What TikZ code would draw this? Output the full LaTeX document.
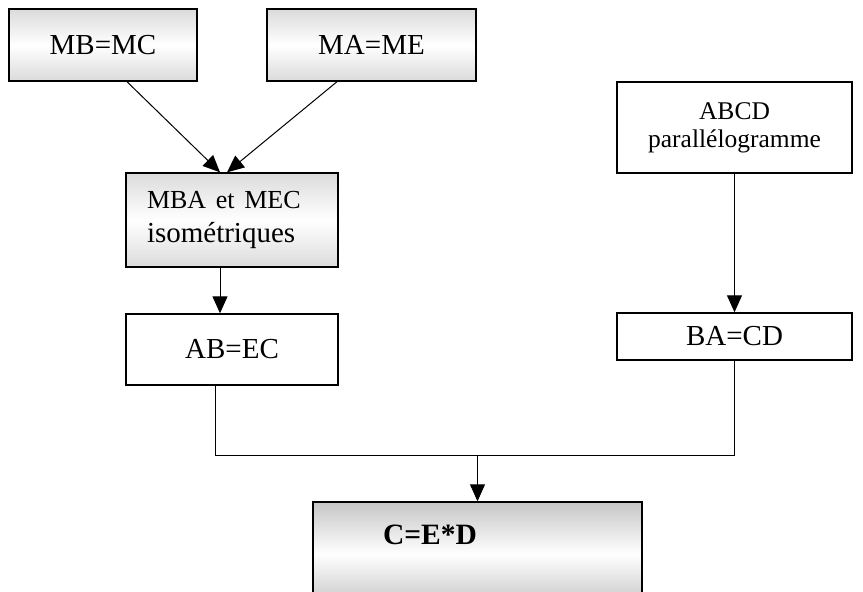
\documentclass[tikz,border=0pt]{standalone}
\usepackage{fontspec}
\setmainfont{Liberation Serif}
\usetikzlibrary{arrows.meta,calc}
\tikzset{
  box/.style={rectangle, draw=black, line width=0.7pt, fill=white, align=center,
              inner sep=0pt, font=\fontsize{14.5}{17}\selectfont},
  boxgrey/.style={box, top color=gray!28, bottom color=gray!28, middle color=white},
  boxdark/.style={box, top color=gray!45, bottom color=gray!45, middle color=white},
  arrow/.style={-{Triangle[length=8.5pt,width=7.5pt]}, line width=0.5pt},
  link/.style={line width=0.5pt},
}

\begin{document}
\begin{tikzpicture}[x=0.5pt, y=-0.5pt]
\useasboundingbox (0,0) rectangle (863,591);

% left branch
\node[boxgrey, minimum width=94pt, minimum height=36pt] (mbmc) at (103,45) {MB=MC};
\node[boxgrey, minimum width=104.5pt, minimum height=36pt] (mame) at (371.5,45) {MA=ME};
\node[boxgrey, minimum width=106pt, minimum height=47pt, align=left,
      text width=85pt, inner xsep=10.5pt] (mba) at (232,220)
  {{\fontsize{13}{17}\selectfont MBA et MEC}\\isométriques};
\node[box, minimum width=106pt, minimum height=35.5pt] (abec) at (232,349.5) {AB=EC};

% right branch
\node[box, minimum width=117.5pt, minimum height=45.5pt, font=\fontsize{12.75}{14}\selectfont]
  (abcd) at (734.5,127.5) {ABCD\\parallélogramme};
\node[box, minimum width=117.5pt, minimum height=23.5pt] (bacd) at (734.5,336.5) {BA=CD};

% result, cut by the page bottom
\node[boxdark, minimum width=164.5pt, minimum height=52pt, align=left, text width=94.5pt,
      inner xsep=35pt, text height=10pt, text depth=19.3pt,
      font=\bfseries\fontsize{14.75}{17}\selectfont] (ced) at (477.5,554) {C=E*D};

\draw[arrow] ($(mbmc.south)+(24,0)$) -- ($(mba.north)+(-12,0)$);
\draw[arrow] ($(mame.south)+(-34.5,0)$) -- ($(mba.north)+(-5,0)$);
\draw[arrow] ($(mba.south)+(-12,0)$) -- ($(abec.north)+(-12,0)$);
\draw[arrow] (abcd.south) -- (bacd.north);

\coordinate (join) at (477.5,455);
\draw[link] ($(abec.south)+(-17,0)$) |- (join) -| (bacd.south);
\draw[arrow] (join) -- (ced.north);
\end{tikzpicture}
\end{document}
